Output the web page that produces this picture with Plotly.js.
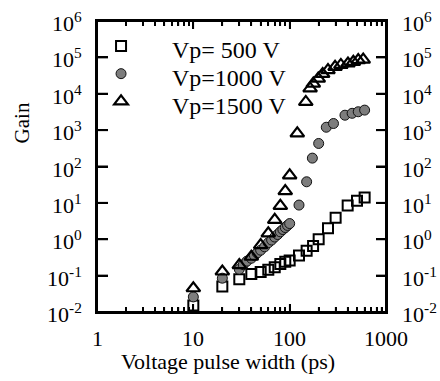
<!DOCTYPE html>
<html>
<head>
<meta charset="utf-8">
<script src="https://cdn.plot.ly/plotly-3.0.1.min.js"></script>
<style>
  html, body { margin: 0; padding: 0; background: #fff; }
  #chart { width: 440px; height: 381px; }
</style>
</head>
<body>
<div id="chart"></div>
<script>
// Gain versus voltage pulse width for three pulse amplitudes

// Vp = 500 V
const width500 = [10, 20, 30, 40, 50, 60, 70, 80, 90, 100, 125, 150, 175, 200, 250, 300, 400, 500, 600];
const gain500  = [0.015, 0.05, 0.08, 0.11, 0.125, 0.145, 0.17, 0.21, 0.24, 0.26, 0.36, 0.48, 0.65, 1.0, 2.0, 3.9, 8.5, 11.5, 14];

// Vp = 1000 V
const width1000 = [10, 20, 30, 33, 36, 40, 43, 46, 50, 55, 60, 65, 70, 75, 80, 85, 90, 95, 100,
                   125, 150, 172, 200, 240, 285, 375, 445, 515, 600];
const gain1000  = [0.026, 0.085, 0.15, 0.2, 0.25, 0.3, 0.36, 0.42, 0.5, 0.62, 0.8, 0.95, 1.15, 1.35, 1.6, 1.85, 2.1, 2.4, 2.7,
                   8.7, 38, 170, 430, 1200, 1520, 2570, 2900, 3200, 3550];

// Vp = 1500 V
const width1500 = [10, 20, 30, 40, 50, 60, 70, 80, 90, 100, 120, 147, 163, 176, 198, 220, 250, 296, 340, 403, 458, 515, 580];
const gain1500  = [0.045, 0.13, 0.195, 0.33, 0.69, 1.45, 3.4, 8.3, 21, 57, 815, 5950, 14000, 19000, 26000, 35000, 44600,
                   55000, 62000, 68000, 75000, 84000, 87000];

const seriesNames = ['Vp= 500 V', 'Vp=1000 V', 'Vp=1500 V'];

// tick labels: decades on both axes
const yTickExp  = [-2, -1, 0, 1, 2, 3, 4, 5, 6];
const yTickText = yTickExp.map(p => '10<sup>' + (p < 0 ? '-' + (-p) : p) + '</sup>');
const xTickVals = [1, 10, 100, 1000];
const xTickText = ['1', '10', '100', '1000'];

const FONT = 'Liberation Serif, Times New Roman, serif';
const LABEL_SIZE = 22;

const traces = [
  {
    x: width500, y: gain500, name: ' ', type: 'scatter', mode: 'markers',
    marker: { symbol: 'square-open', size: 10, color: '#000', line: { width: 2, color: '#000' } }
  },
  {
    x: width1000, y: gain1000, name: ' ', type: 'scatter', mode: 'markers',
    marker: { symbol: 'circle', size: 10, color: '#7d7d7d', line: { width: 1, color: '#111' } }
  },
  {
    x: width1500, y: gain1500, name: ' ', type: 'scatter', mode: 'markers',
    marker: { symbol: 'triangle-up-open', size: 12, color: '#000', line: { width: 2.2, color: '#000' } }
  },
  // empty trace that binds the right-hand axis
  { x: [], y: [], yaxis: 'y2', type: 'scatter', mode: 'markers', showlegend: false, hoverinfo: 'skip' }
];

// frame axes: inside ticks, labels placed as annotations
const frameAxis = {
  type: 'log', tickmode: 'linear', tick0: 0, dtick: 1,
  ticks: 'inside', tickcolor: '#000', showticklabels: false,
  showline: true, linewidth: 2, linecolor: '#000',
  showgrid: false, zeroline: false, fixedrange: true
};

// plot frame and tick marks drawn as shapes (shape coordinates on log axes are plain values)
const BLACK2 = { color: '#000', width: 2 };
const shapes = [
  { type: 'rect', xref: 'paper', yref: 'paper', x0: 0, x1: 1, y0: 0, y1: 1, layer: 'above',
    line: BLACK2, fillcolor: 'rgba(0,0,0,0)' },
  { type: 'line', xref: 'paper', yref: 'paper', x0: 0, x1: 1, y0: 0, y1: 0, layer: 'above', line: BLACK2 },
  { type: 'line', xref: 'paper', yref: 'paper', x0: 0, x1: 1, y0: 1, y1: 1, layer: 'above', line: BLACK2 },
  { type: 'line', xref: 'paper', yref: 'paper', x0: 0, x1: 0, y0: 0, y1: 1, layer: 'above', line: BLACK2 },
  { type: 'line', xref: 'paper', yref: 'paper', x0: 1, x1: 1, y0: 0, y1: 1, layer: 'above', line: BLACK2 }
];
function xTick(v, len, w) {
  shapes.push({ type: 'line', xref: 'x', yref: 'paper', x0: v, x1: v, ysizemode: 'pixel', yanchor: 0,
    y0: 0, y1: len, layer: 'above', line: { color: '#000', width: w } });
  shapes.push({ type: 'line', xref: 'x', yref: 'paper', x0: v, x1: v, ysizemode: 'pixel', yanchor: 1,
    y0: 0, y1: -len, layer: 'above', line: { color: '#000', width: w } });
}
[1, 10, 100].forEach(d => {
  if (d > 1) xTick(d, 8, 1.5);
  for (let k = 2; k <= 9; k++) xTick(k * d, 5, 1.5);
});
yTickExp.forEach(p => {
  if (p === -2 || p === 6) return;
  const v = Math.pow(10, p);
  shapes.push({ type: 'line', xref: 'paper', yref: 'y', y0: v, y1: v, xsizemode: 'pixel', xanchor: 0,
    x0: 0, x1: 11, layer: 'above', line: BLACK2 });
  shapes.push({ type: 'line', xref: 'paper', yref: 'y', y0: v, y1: v, xsizemode: 'pixel', xanchor: 1,
    x0: 0, x1: -10, layer: 'above', line: BLACK2 });
});

const annotations = [];
xTickVals.forEach((v, i) => annotations.push({
  text: xTickText[i], xref: 'x', yref: 'paper', x: Math.log10(v), y: 0, yshift: -26,
  xanchor: 'center', yanchor: 'middle', showarrow: false, font: { family: FONT, size: LABEL_SIZE }
}));
yTickExp.forEach((p, i) => {
  annotations.push({
    text: yTickText[i], xref: 'paper', yref: 'y', x: 0, y: p, xshift: -13, yshift: -1,
    xanchor: 'right', yanchor: 'middle', showarrow: false, font: { family: FONT, size: LABEL_SIZE }
  });
  annotations.push({
    text: yTickText[i], xref: 'paper', yref: 'y', x: 1, y: p, xshift: 14, yshift: -1,
    xanchor: 'left', yanchor: 'middle', showarrow: false, font: { family: FONT, size: LABEL_SIZE }
  });
});
// axis titles
annotations.push({ text: 'Gain', textangle: -90, xref: 'paper', yref: 'paper', x: -0.2595, y: 0.648,
  xanchor: 'center', yanchor: 'middle', showarrow: false, font: { family: FONT, size: 21 } });
annotations.push({ text: 'Voltage pulse width (ps)', xref: 'paper', yref: 'paper', x: 0.4516, y: -0.17,
  xanchor: 'center', yanchor: 'middle', showarrow: false, font: { family: FONT, size: 22 } });
// legend texts beside the legend symbols
[0.900, 0.804, 0.708].forEach((yy, i) => annotations.push({
  text: seriesNames[i], xref: 'paper', yref: 'paper', x: 0.2526, y: yy,
  xanchor: 'left', yanchor: 'middle', showarrow: false, font: { family: FONT, size: 24 }
}));

const layout = {
  width: 440, height: 381,
  margin: { l: 97, r: 54, t: 21, b: 69 },
  paper_bgcolor: '#fff', plot_bgcolor: '#fff',
  font: { family: FONT, color: '#000', size: 22 },
  showlegend: true,
  legend: {
    x: 0.014, y: 0.979, xanchor: 'left', yanchor: 'top',
    bgcolor: 'rgba(0,0,0,0)', borderwidth: 0,
    font: { family: FONT, size: 19, color: '#000' },
    itemwidth: 30, tracegroupgap: 0
  },
  xaxis: Object.assign({}, frameAxis, {
    range: [0, 3], ticklen: 8, tickwidth: 1.5, mirror: 'ticks',
    minor: { tickmode: 'linear', dtick: 'D1', ticks: 'inside', ticklen: 5, tickwidth: 1.5, tickcolor: '#000', showgrid: false }
  }),
  yaxis: Object.assign({}, frameAxis, { range: [-2, 6], ticklen: 11, tickwidth: 2 }),
  yaxis2: Object.assign({}, frameAxis, {
    range: [-2, 6], ticklen: 10, tickwidth: 2, overlaying: 'y', side: 'right', anchor: 'x'
  }),
  shapes: shapes,
  annotations: annotations
};

Plotly.newPlot('chart', traces, layout, { displayModeBar: false });
</script>
</body>
</html>
